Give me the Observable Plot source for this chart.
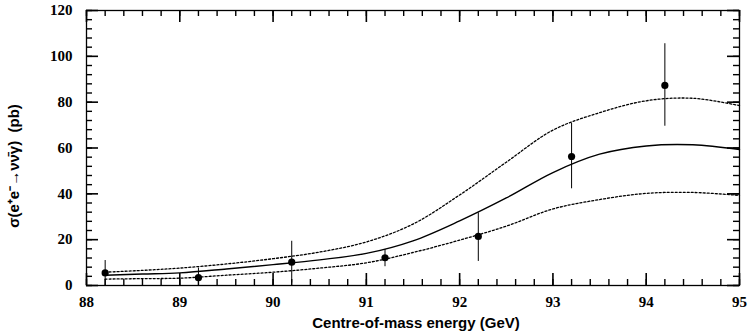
<!DOCTYPE html>
<html>
<head>
<meta charset="utf-8">
<script src="https://cdn.jsdelivr.net/npm/d3@7"></script>
<script src="https://cdn.jsdelivr.net/npm/@observablehq/plot@0.6"></script>
<style>
  html, body { margin: 0; padding: 0; background: white; }
</style>
</head>
<body>
<div id="chart"></div>
<script>
// Measured cross-section points
const energy = [88.2, 89.2, 90.2, 91.2, 92.2, 93.2, 94.2];
const sigma = [5.5, 3.4, 10.2, 12.1, 21.4, 56.3, 87.3];
const errLow = [0, 0, 1.1, 8.2, 10.5, 42.2, 69.5];
const errHigh = [10.9, 7.6, 19.3, 15.7, 31.7, 70.8, 105.5];

// Prediction curve (central) and its band (upper / lower dotted)
const curveE = [88.2, 88.6, 89.0, 89.5, 90.0, 90.5, 91.0, 91.5, 92.0, 92.5, 93.0, 93.5, 94.0, 94.5, 95.0];
const central = [4.5, 5.0, 5.5, 7.2, 9.1, 11.2, 14.0, 19.5, 28.2, 38.2, 49.3, 57.3, 60.9, 61.4, 59.3];
const upper = [5.8, 6.6, 7.6, 9.4, 11.7, 14.6, 19.0, 26.8, 39.5, 53.8, 67.8, 75.4, 80.6, 81.7, 78.5];
const lower = [2.8, 3.0, 3.2, 4.5, 5.8, 7.6, 9.9, 14.4, 19.8, 25.9, 33.4, 37.5, 40.2, 40.6, 39.3];

// Axes
const xDomain = [88, 95];
const yDomain = [0, 120];
const xMajor = [88, 89, 90, 91, 92, 93, 94, 95];
const yMajor = [0, 20, 40, 60, 80, 100, 120];
const xMinor = d3.range(0, 36).map(i => 88 + i * 0.2);
const yMinor = d3.range(0, 31).map(i => i * 4);
const xTitle = "Centre-of-mass energy (GeV)";
const yTitle = "σ(e\u207Ae\u207B\u2192\u03BD\u03BD\u0304\u03B3)  (pb)";

const points = energy.map((e, i) => ({e, s: sigma[i], lo: errLow[i], hi: errHigh[i]}));
const curve = curveE.map((e, i) => ({e, c: central[i], u: upper[i], l: lower[i]}));

const minorLen = 6, majorLen = 12;
const minorW = 1.4, majorW = 1.6;

const chart = Plot.plot({
  width: 750,
  height: 331,
  marginLeft: 86,
  marginRight: 11,
  marginTop: 10,
  marginBottom: 46,
  style: {fontFamily: "'Liberation Serif', serif", fontWeight: "bold", fontSize: "15px", background: "white", color: "black"},
  x: {domain: xDomain, ticks: xMajor, tickSize: 0, tickPadding: 11, tickFormat: d3.format("d"), label: null},
  y: {domain: yDomain, ticks: yMajor, tickSize: 0, tickPadding: 14, tickFormat: d3.format("d"), label: null},
  marks: [
    Plot.frame({stroke: "black", strokeWidth: 1.3}),
    // curves
    Plot.line(curve, {x: "e", y: "u", curve: "catmull-rom", stroke: "black", strokeWidth: 1.3, strokeDasharray: "2,2"}),
    Plot.line(curve, {x: "e", y: "l", curve: "catmull-rom", stroke: "black", strokeWidth: 1.3, strokeDasharray: "2,2"}),
    Plot.line(curve, {x: "e", y: "c", curve: "catmull-rom", stroke: "black", strokeWidth: 1.4}),
    // data points
    Plot.ruleX(points, {x: "e", y1: "lo", y2: "hi", stroke: "black", strokeWidth: 1}),
    Plot.dot(points, {x: "e", y: "s", r: 3.6, fill: "black", stroke: "none"}),
    // inward ticks: bottom & top
    Plot.ruleX(xMinor, {x: d => d, y1: yDomain[0], y2: yDomain[0], insetTop: -minorLen, stroke: "black", strokeWidth: minorW}),
    Plot.ruleX(xMajor, {x: d => d, y1: yDomain[0], y2: yDomain[0], insetTop: -majorLen, stroke: "black", strokeWidth: majorW}),
    Plot.ruleX(xMinor, {x: d => d, y1: yDomain[1], y2: yDomain[1], insetBottom: -minorLen, stroke: "black", strokeWidth: minorW}),
    Plot.ruleX(xMajor, {x: d => d, y1: yDomain[1], y2: yDomain[1], insetBottom: -majorLen, stroke: "black", strokeWidth: majorW}),
    // inward ticks: left & right
    Plot.ruleY(yMinor, {y: d => d, x1: xDomain[0], x2: xDomain[0], insetRight: -minorLen, stroke: "black", strokeWidth: minorW}),
    Plot.ruleY(yMajor, {y: d => d, x1: xDomain[0], x2: xDomain[0], insetRight: -majorLen, stroke: "black", strokeWidth: majorW}),
    Plot.ruleY(yMinor, {y: d => d, x1: xDomain[1], x2: xDomain[1], insetLeft: -minorLen, stroke: "black", strokeWidth: minorW}),
    Plot.ruleY(yMajor, {y: d => d, x1: xDomain[1], x2: xDomain[1], insetLeft: -majorLen, stroke: "black", strokeWidth: majorW}),
    // axis titles
    Plot.text([xTitle], {frameAnchor: "bottom", text: d => d, dx: 3, dy: 38, lineAnchor: "middle", textAnchor: "middle", fontFamily: "'Liberation Sans', Arial, sans-serif", fontWeight: "bold", fontSize: 15, fill: "black"}),
    Plot.text([yTitle], {frameAnchor: "left", text: d => d, rotate: -90, dx: -72, dy: 18, lineAnchor: "middle", textAnchor: "middle", fontFamily: "'Liberation Sans', Arial, sans-serif", fontWeight: "bold", fontSize: 15, fill: "black"})
  ]
});
document.getElementById("chart").appendChild(chart);
</script>
</body>
</html>
